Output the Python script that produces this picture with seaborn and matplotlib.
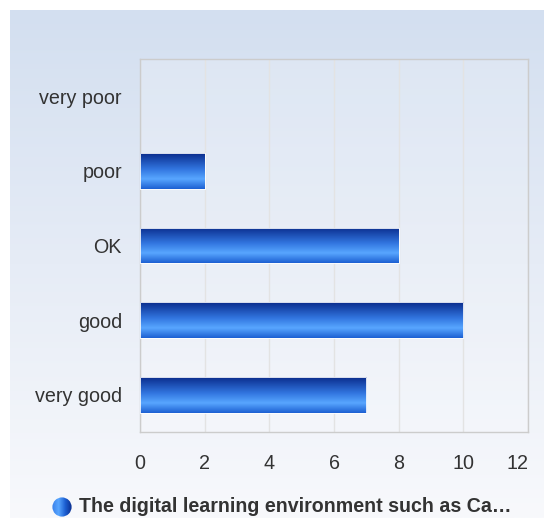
import numpy as np
import pandas as pd
import matplotlib
matplotlib.use("Agg")
import matplotlib.pyplot as plt
import matplotlib.transforms as mtransforms
from matplotlib.colors import LinearSegmentedColormap
from matplotlib.patches import Circle
import seaborn as sns

categories = ["very poor", "poor", "OK", "good", "very good"]
values = [0, 2, 8, 10, 7]
x_ticks = [0, 2, 4, 6, 8, 10, 12]
series_name = "The digital learning environment such as Ca\u2026"

sns.set_theme(style="white")
plt.rcParams["font.family"] = ["Liberation Sans", "DejaVu Sans"]

W, H = 544, 518
fig = plt.figure(figsize=(W / 100, H / 100), dpi=100)
fig.patch.set_facecolor("white")

# background gradient panel
bg = fig.add_axes([10 / W, 0, 1 - 10 / W, 1 - 10 / H], zorder=-10)
bg_cmap = LinearSegmentedColormap.from_list("bg", ["#d3dff0", "#e6ecf6", "#f8f9fc"])
bg.imshow(np.linspace(0, 1, 256).reshape(-1, 1), aspect="auto", cmap=bg_cmap,
          extent=(0, 1, 0, 1), origin="upper")
bg.set_axis_off()

ax = fig.add_axes([140 / W, 1 - 432 / H, (528 - 140) / W, (432 - 59) / H])
ax.set_facecolor((1, 1, 1, 0.18))

df = pd.DataFrame({"category": categories, "value": values})
sns.barplot(data=df, x="value", y="category", order=categories, orient="h",
            width=0.48, color="#2f6fe0", ax=ax, edgecolor="none", zorder=3)

ax.set_xlim(0, 12)
ax.set_xticks(x_ticks)
ax.set_xticklabels([str(t) for t in x_ticks])
ax.xaxis.grid(True, color="#e3e3e3", linewidth=1, zorder=0)
ax.set_axisbelow(True)
ax.set_xlabel("")
ax.set_ylabel("")
for s in ax.spines.values():
    s.set_color("#cccccc")
    s.set_linewidth(1)
ax.tick_params(axis="both", length=0, labelsize=14.2, labelcolor="#333333")
ax.tick_params(axis="y", pad=13)
ax.tick_params(axis="x", pad=16)

# shift the last x label left like the reference
last = ax.get_xticklabels()[-1]
last.set_transform(last.get_transform() + mtransforms.ScaledTranslation(-11 / 100, 0, fig.dpi_scale_trans))

# gradient fill for bars
bar_cmap = LinearSegmentedColormap.from_list(
    "bar", [(0.0, "#0a2c8c"), (0.45, "#3276e0"), (0.72, "#58a6ff"), (1.0, "#1c5fd2")])
grad = np.linspace(0, 1, 256).reshape(-1, 1)
for p in list(ax.patches):
    x0, y0 = p.get_x(), p.get_y()
    w, h = p.get_width(), p.get_height()
    if w <= 0:
        continue
    im = ax.imshow(grad, aspect="auto", cmap=bar_cmap, extent=(x0, x0 + w, y0 + h, y0),
                   origin="upper", zorder=4)
    im.set_clip_path(p)
    p.set_facecolor("none")
    p.set_edgecolor("white")
    p.set_linewidth(0.6)
    p.set_zorder(5)
ax.set_xlim(0, 12)
ax.set_ylim(4.5, -0.5)
ax.set_aspect("auto")

# legend
lg = fig.add_axes([52 / W, 1 - 517 / H, 20 / W, 20 / H])
lg.set_xlim(0, 1)
lg.set_ylim(0, 1)
lg.set_axis_off()
circ = Circle((0.5, 0.5), 0.48, transform=lg.transAxes, facecolor="none", edgecolor="none")
lg.add_patch(circ)
leg_cmap = LinearSegmentedColormap.from_list("leg", ["#3a80ea", "#58a6ff", "#1c5fd2", "#0a2c8c"])
im = lg.imshow(np.linspace(0, 1, 256).reshape(1, -1), aspect="auto", cmap=leg_cmap,
               extent=(0, 1, 0, 1))
im.set_clip_path(circ)
fig.text(79 / W, 1 - 507 / H, series_name, fontsize=14.1, fontweight="bold",
         color="#333333", va="center", ha="left")

fig.savefig("out.png", dpi=100)
